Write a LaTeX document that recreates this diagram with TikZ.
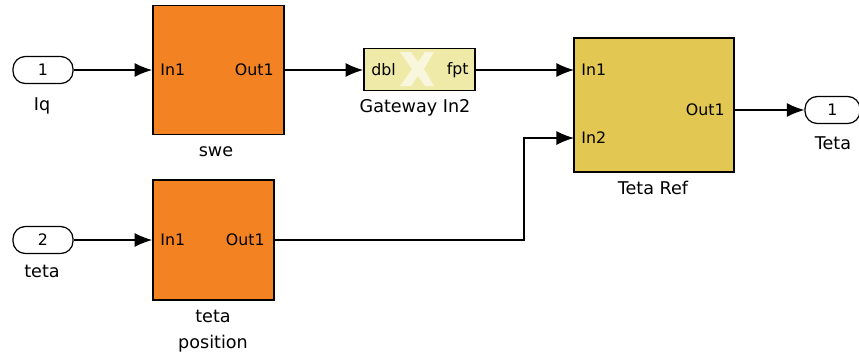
\documentclass[tikz,border=0pt]{standalone}
\usepackage{fontspec}
\setmainfont{DejaVu Sans}
\usetikzlibrary{arrows.meta}
\usetikzlibrary{calc}
\tikzset{>={Latex[length=10pt,width=8pt]}}
\usepackage{xcolor}
\definecolor{subcol}{RGB}{242,130,34}
\definecolor{refcol}{RGB}{226,199,82}
\definecolor{gwcol}{RGB}{239,234,168}
\tikzstyle{subsys}=[draw,line width=1pt,inner sep=0pt]
\tikzstyle{port}=[draw,line width=0.7pt,rounded corners=7pt,fill=white,minimum width=1.2cm,minimum height=0.54cm,inner sep=0pt,font=\fontsize{9}{10}\selectfont]
\tikzstyle{pin}=[font=\fontsize{9}{10}\selectfont,inner sep=0pt]
\tikzstyle{caption}=[font=\fontsize{10}{14.5}\selectfont,align=center,inner sep=0pt]
\tikzstyle{wire}=[line width=0.8pt,->]

\begin{document}
\begin{tikzpicture}[x=0.02cm,y=-0.02cm]
  \useasboundingbox (0,0) rectangle (859,356);
  % in/out ports
  \node[port] (iq) at (43,70) {1};
  \node[caption] (iqlbl) at (42,106) {Iq};
  \node[port] (teta) at (43,240) {2};
  \node[caption] (tetalbl) at (42,271) {teta};
  \node[port,minimum width=1.1cm] (tetaout) at (832.5,110) {1};
  \node[caption] (tetaoutlbl) at (833,143) {Teta};

  % subsystems
  \node[subsys,fill=subcol,minimum width=2.62cm,minimum height=2.58cm] (swe) at (218.5,70) {};
  \node[pin,anchor=west] (sweIn) at (160,70) {In1};
  \node[pin,anchor=east] (sweOut) at (274,70) {Out1};
  \node[caption] (swelbl) at (216,152) {swe};

  \node[subsys,fill=subcol,minimum width=2.42cm,minimum height=2.4cm] (tpos) at (213.5,240) {};
  \node[pin,anchor=west] (tposIn) at (160,240) {In1};
  \node[pin,anchor=east] (tposOut) at (265,240) {Out1};
  \node[caption] (tposlbl) at (213,331) {teta\\position};

  \node[subsys,fill=gwcol,minimum width=2.22cm,minimum height=0.84cm] (gw) at (419.5,69.5) {};
  % xilinx mark
  \fill[white,opacity=0.6] (400,52) -- (411,52) -- (418,62) -- (425,52) -- (434,52) -- (424,69)
    -- (434,86) -- (425,86) -- (418,76) -- (411,86) -- (400,86) -- (412,69) -- cycle;
  \node[pin,anchor=west] (gwIn) at (371,70) {dbl};
  \node[pin,anchor=east] (gwOut) at (469,70) {fpt};
  \node[caption] (gwlbl) at (415,108) {Gateway In2};

  \node[subsys,fill=refcol,minimum width=3.2cm,minimum height=2.68cm] (tref) at (654,105) {};
  \coordinate (trefIn1) at (574,70);
  \coordinate (trefIn2) at (574,138);
  \coordinate (trefOut) at (734,110);
  \node[pin,anchor=west] (trefIn1txt) at (581,70) {In1};
  \node[pin,anchor=west] (trefIn2txt) at (581,138) {In2};
  \node[pin,anchor=east] (trefOuttxt) at (725,110) {Out1};
  \node[caption] (treflbl) at (653,188) {Teta Ref};

  % signal lines
  \coordinate (jog) at (524,240);
  \draw[wire] (iq.east) -- (iq.east -| swe.west);
  \draw[wire] (teta.east) -- (teta.east -| tpos.west);
  \draw[wire] (swe.east) -- (swe.east -| gw.west);
  \draw[wire] (gw.east |- trefIn1) -- (trefIn1);
  \draw[wire] (tpos.east) -- (jog) |- (trefIn2);
  \draw[wire] (trefOut) -- (tetaout.west);
\end{tikzpicture}
\end{document}
